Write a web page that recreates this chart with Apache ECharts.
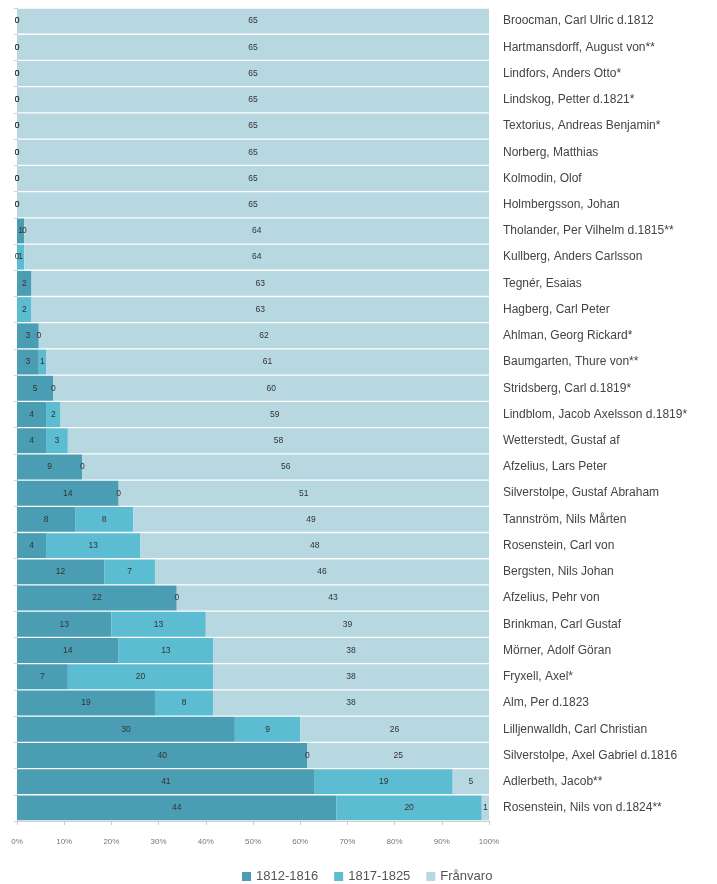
<!DOCTYPE html>
<html><head><meta charset="utf-8">
<script src="https://cdn.jsdelivr.net/npm/echarts@6/dist/echarts.min.js"></script>
<style>html,body{margin:0;padding:0;background:#fff}#c{width:717px;height:884px}</style>
</head><body><div id="c"></div>
<script>
const names = [
"Broocman, Carl Ulric d.1812","Hartmansdorff, August von**","Lindfors, Anders Otto*","Lindskog, Petter d.1821*",
"Textorius, Andreas Benjamin*","Norberg, Matthias","Kolmodin, Olof","Holmbergsson, Johan",
"Tholander, Per Vilhelm d.1815**","Kullberg, Anders Carlsson","Tegnér, Esaias","Hagberg, Carl Peter",
"Ahlman, Georg Rickard*","Baumgarten, Thure von**","Stridsberg, Carl d.1819*","Lindblom, Jacob Axelsson d.1819*",
"Wetterstedt, Gustaf af","Afzelius, Lars Peter","Silverstolpe, Gustaf Abraham","Tannström, Nils Mårten",
"Rosenstein, Carl von","Bergsten, Nils Johan","Afzelius, Pehr von","Brinkman, Carl Gustaf",
"Mörner, Adolf Göran","Fryxell, Axel*","Alm, Per d.1823","Lilljenwalldh, Carl Christian",
"Silverstolpe, Axel Gabriel d.1816","Adlerbeth, Jacob**","Rosenstein, Nils von d.1824**"];
const s1812 = [0,0,0,0,0,0,0,0,1,0,2,0,3,3,5,4,4,9,14,8,4,12,22,13,14,7,19,30,40,41,44];
const s1817 = [0,0,0,0,0,0,0,0,0,1,0,2,0,1,0,2,3,0,0,8,13,7,0,13,13,20,8,9,0,19,20];
const franvaro = [65,65,65,65,65,65,65,65,64,64,63,63,62,61,60,59,58,56,51,49,48,46,43,39,38,38,38,26,25,5,1];
const seriesNames = ["1812-1816","1817-1825","Frånvaro"];
const colors = ["#4a9db3","#5bbcd2","#b7d7e1"];
const ticks = [0,10,20,30,40,50,60,70,80,90,100];

const raw = [s1812, s1817, franvaro];
const totals = names.map((_, i) => s1812[i] + s1817[i] + franvaro[i]);
// labels that the original leaves out where two small labels collide
const hidden = {0: [11], 1: [10]};
const chart = echarts.init(document.getElementById('c'));
chart.setOption({
  backgroundColor: '#fff',
  animation: false,
  grid: {left: 17, right: 228, top: 8, bottom: 63, containLabel: false},
  legend: {
    data: seriesNames, top: 865, left: 237, icon: 'rect', itemWidth: 9, itemHeight: 9, itemGap: 16,
    textStyle: {fontFamily: 'Liberation Sans', fontSize: 13, color: '#555'}
  },
  xAxis: {
    type: 'value', min: 0, max: 100, interval: 10,
    axisLine: {show: true, lineStyle: {color: '#d0d0d0'}},
    axisTick: {show: true, length: 4, lineStyle: {color: '#c8c8c8'}},
    splitLine: {show: false},
    axisLabel: {formatter: v => ticks.includes(v) ? v + '%' : '', fontFamily: 'Liberation Sans', fontSize: 8, color: '#777', margin: 17}
  },
  yAxis: [
    {type: 'category', data: names, inverse: true, position: 'left',
     axisLine: {show: true, lineStyle: {color: '#cfd8dc'}},
     axisTick: {show: true, length: 3, lineStyle: {color: '#d0d0d0'}},
     axisLabel: {show: false}},
    {type: 'category', data: names, inverse: true, position: 'right',
     axisLine: {show: false}, axisTick: {show: false},
     axisLabel: {show: true, fontFamily: 'Liberation Sans', fontSize: 12, color: '#444', margin: 14, align: 'left'}}
  ],
  series: raw.map((arr, k) => ({
    name: seriesNames[k], type: 'bar', stack: 'all', yAxisIndex: 0,
    barCategoryGap: '5%',
    itemStyle: {color: colors[k]},
    label: {show: true, position: 'inside', fontFamily: 'Liberation Sans', fontSize: 8.5, color: '#333',
      formatter: p => (hidden[k] && hidden[k].includes(p.dataIndex)) ? '' : String(arr[p.dataIndex])},
    data: arr.map((v, i) => v / totals[i] * 100)
  }))
});
</script></body></html>
